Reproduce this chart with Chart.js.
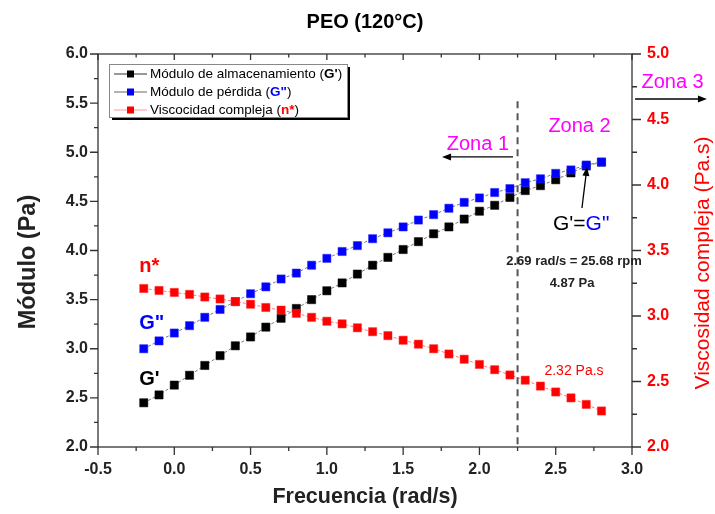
<!DOCTYPE html>
<html>
<head>
<meta charset="utf-8">
<title>PEO (120°C)</title>
<script src="https://cdn.jsdelivr.net/npm/chart.js"></script>
<style>
  html, body { margin: 0; padding: 0; background: #fff; }
  #wrap { width: 715px; height: 514px; }
</style>
</head>
<body>
<div id="wrap"><canvas id="peoChart" width="715" height="514"></canvas></div>
<script>
  // log10 frecuencia (rad/s)
  const frequency = [-0.2, -0.1, 0.0, 0.1, 0.2, 0.3, 0.4, 0.5, 0.6, 0.7, 0.8, 0.9, 1.0, 1.1, 1.2, 1.3,
    1.4, 1.5, 1.6, 1.7, 1.8, 1.9, 2.0, 2.1, 2.2, 2.3, 2.4, 2.5, 2.6, 2.7, 2.8];
  // G' (Pa)
  const storageModulus = [2.45, 2.53, 2.63, 2.73, 2.83, 2.93, 3.03, 3.12, 3.22, 3.31, 3.41, 3.50, 3.59, 3.67,
    3.76, 3.85, 3.93, 4.01, 4.09, 4.17, 4.24, 4.32, 4.40, 4.46, 4.54, 4.61, 4.66, 4.72, 4.79, 4.86, 4.90];
  // G'' (Pa)
  const lossModulus = [3.00, 3.08, 3.16, 3.235, 3.32, 3.40, 3.48, 3.56, 3.63, 3.71, 3.77, 3.85, 3.92, 3.99,
    4.05, 4.12, 4.18, 4.24, 4.31, 4.365, 4.43, 4.49, 4.535, 4.59, 4.63, 4.69, 4.73, 4.785, 4.82, 4.87, 4.90];
  // n* (Pa.s)
  const complexViscosity = [3.21, 3.195, 3.18, 3.165, 3.145, 3.13, 3.11, 3.09, 3.065, 3.045, 3.02, 2.99, 2.96,
    2.94, 2.91, 2.88, 2.85, 2.815, 2.785, 2.75, 2.71, 2.67, 2.63, 2.59, 2.55, 2.51, 2.465, 2.42, 2.375, 2.325, 2.275];

  const xRange = [-0.5, 3.0];
  const yLeftRange = [2.0, 6.0];
  const yRightRange = [2.0, 5.0];
  const majorStep = 0.5;
  const minorStep = 0.25;

  const FONT = "'Liberation Sans', Arial, sans-serif";

  function points(ys) {
    return frequency.map((x, i) => ({ x: x, y: ys[i] }));
  }

  function arrow(ctx, x1, y1, x2, y2) {
    const ang = Math.atan2(y2 - y1, x2 - x1);
    const hl = 9, hw = 3.5;
    ctx.beginPath();
    ctx.moveTo(x1, y1);
    ctx.lineTo(x2 - Math.cos(ang) * hl * 0.8, y2 - Math.sin(ang) * hl * 0.8);
    ctx.stroke();
    ctx.beginPath();
    ctx.moveTo(x2, y2);
    ctx.lineTo(x2 - Math.cos(ang) * hl + Math.sin(ang) * hw, y2 - Math.sin(ang) * hl - Math.cos(ang) * hw);
    ctx.lineTo(x2 - Math.cos(ang) * hl - Math.sin(ang) * hw, y2 - Math.sin(ang) * hl + Math.cos(ang) * hw);
    ctx.closePath();
    ctx.fill();
  }

  // texto con partes de distinto estilo
  function richText(ctx, parts, x, y) {
    let cx = x;
    parts.forEach(p => {
      ctx.font = p.font;
      ctx.fillStyle = p.color;
      ctx.fillText(p.text, cx, y);
      cx += ctx.measureText(p.text).width;
    });
  }

  function verticalText(ctx, text, x, y, font, color) {
    ctx.save();
    ctx.translate(x, y);
    ctx.rotate(-Math.PI / 2);
    ctx.fillStyle = color;
    ctx.font = font;
    ctx.textAlign = 'center';
    ctx.textBaseline = 'middle';
    ctx.fillText(text, 0, 0);
    ctx.restore();
  }

  const notesPlugin = {
    id: 'peoNotes',
    afterDraw(chart) {
      const { ctx, chartArea: a, scales: { x, y, y1 } } = chart;
      const X = v => x.getPixelForValue(v);
      const Y = v => y.getPixelForValue(v);
      ctx.save();

      // marco y marcas
      ctx.strokeStyle = '#333';
      ctx.lineWidth = 1.3;
      ctx.strokeRect(a.left, a.top, a.right - a.left, a.bottom - a.top);
      ctx.beginPath();
      const isMajor = v => Math.abs(v / majorStep - Math.round(v / majorStep)) < 1e-6;
      for (let v = xRange[0]; v <= xRange[1] + 1e-6; v += minorStep) {
        const px = X(v);
        ctx.moveTo(px, a.bottom); ctx.lineTo(px, a.bottom + (isMajor(v) ? 8 : 4));
        ctx.moveTo(px, a.top); ctx.lineTo(px, a.top + (isMajor(v) ? 6 : 3.5));
      }
      for (let v = yLeftRange[0]; v <= yLeftRange[1] + 1e-6; v += minorStep) {
        const py = Y(v);
        ctx.moveTo(a.left, py); ctx.lineTo(a.left - (isMajor(v) ? 8 : 4), py);
      }
      for (let v = yRightRange[0]; v <= yRightRange[1] + 1e-6; v += minorStep) {
        const py = y1.getPixelForValue(v);
        ctx.moveTo(a.right, py); ctx.lineTo(a.right + (isMajor(v) ? 9 : 5), py);
      }
      ctx.stroke();

      // línea divisoria de zonas
      ctx.save();
      ctx.strokeStyle = '#555';
      ctx.lineWidth = 2;
      ctx.setLineDash([7, 5]);
      ctx.beginPath();
      ctx.moveTo(X(2.25), Y(5.52));
      ctx.lineTo(X(2.25), a.bottom);
      ctx.stroke();
      ctx.restore();

      // título
      ctx.fillStyle = '#000';
      ctx.font = 'bold 20px ' + FONT;
      ctx.textAlign = 'center';
      ctx.textBaseline = 'alphabetic';
      ctx.fillText('PEO (120°C)', (a.left + a.right) / 2, 28);

      // títulos de ejes verticales
      verticalText(ctx, 'Módulo (Pa)', 29, 262, 'bold 23.5px ' + FONT, '#222');
      verticalText(ctx, 'Viscosidad compleja (Pa.s)', 703, 263, '21px ' + FONT, '#ff0000');

      // etiquetas de series
      ctx.textAlign = 'left';
      ctx.font = 'bold 20px ' + FONT;
      ctx.fillStyle = '#ff0000'; ctx.fillText('n*', X(-0.23), Y(3.78));
      ctx.fillStyle = '#0000ff'; ctx.fillText('G"', X(-0.23), Y(3.20));
      ctx.fillStyle = '#000'; ctx.fillText("G'", X(-0.23), Y(2.63));

      // zonas
      ctx.textAlign = 'center';
      ctx.font = '20px ' + FONT;
      ctx.fillStyle = '#ff00ff';
      ctx.fillText('Zona 1', X(1.99), Y(5.02));
      ctx.fillText('Zona 2', X(2.656), Y(5.206));
      ctx.fillText('Zona 3', X(3.266), Y(5.654));
      ctx.strokeStyle = '#000'; ctx.fillStyle = '#000'; ctx.lineWidth = 1.3;
      arrow(ctx, X(2.22), Y(4.952), X(1.755), Y(4.952));
      arrow(ctx, X(3.02), Y(5.542), X(3.491), Y(5.542));
      arrow(ctx, X(2.672), Y(4.433), X(2.705), Y(4.85));

      // G'=G''
      ctx.textAlign = 'left';
      const gx = X(2.482), gy = Y(4.209);
      richText(ctx, [
        { text: "G'=", font: '21px ' + FONT, color: '#000' },
        { text: 'G"', font: '21px ' + FONT, color: '#0000ff' }
      ], gx, gy);

      ctx.textAlign = 'center';
      ctx.fillStyle = '#222';
      ctx.font = 'bold 13px ' + FONT;
      ctx.fillText('2.69 rad/s = 25.68 rpm', X(2.62), Y(3.852));
      ctx.fillText('4.87 Pa', X(2.607), Y(3.628));
      ctx.fillStyle = '#ff0000';
      ctx.font = '14px ' + FONT;
      ctx.fillText('2.32 Pa.s', X(2.62), Y(2.733));

      // leyenda
      const lx = a.left + 11, ly = a.top + 10, lw = 238, lh = 53;
      ctx.fillStyle = '#000';
      ctx.fillRect(lx + 3, ly + 3, lw, lh);
      ctx.fillStyle = '#fff';
      ctx.fillRect(lx, ly, lw, lh);
      ctx.strokeStyle = '#888'; ctx.lineWidth = 1;
      ctx.strokeRect(lx + 0.5, ly + 0.5, lw, lh);
      const rows = [
        { line: '#333', mark: '#000', parts: [['Módulo de almacenamiento (', '#000', ''], ["G'", '#000', 'bold '], [')', '#000', '']] },
        { line: '#666', mark: '#0000ff', parts: [['Módulo de pérdida (', '#000', ''], ['G"', '#0000ff', 'bold '], [')', '#000', '']] },
        { line: '#ff9999', mark: '#ff0000', parts: [['Viscocidad compleja (', '#000', ''], ['n*', '#ff0000', 'bold '], [')', '#000', '']] }
      ];
      ctx.textAlign = 'left';
      ctx.textBaseline = 'middle';
      rows.forEach((r, i) => {
        const cy = ly + 10 + i * 18;
        ctx.strokeStyle = r.line; ctx.lineWidth = 1;
        ctx.beginPath(); ctx.moveTo(lx + 5, cy); ctx.lineTo(lx + 38, cy); ctx.stroke();
        ctx.fillStyle = r.mark;
        ctx.fillRect(lx + 18, cy - 3.5, 7, 7);
        richText(ctx, r.parts.map(p => ({ text: p[0], color: p[1], font: p[2] + '13.5px ' + FONT })), lx + 41, cy + 0.5);
      });

      ctx.restore();
    }
  };

  const tickFont = { family: FONT, size: 16, weight: 'bold' };

  new Chart(document.getElementById('peoChart'), {
    type: 'line',
    data: {
      datasets: [
        {
          label: "Módulo de almacenamiento (G')",
          data: points(storageModulus),
          yAxisID: 'y',
          borderColor: '#777', borderWidth: 1, borderDash: [3, 2],
          pointStyle: 'rect', pointRadius: 5.8,
          pointBackgroundColor: '#000', pointBorderColor: '#000', pointBorderWidth: 0.5,
          order: 3
        },
        {
          label: "Módulo de pérdida (G'')",
          data: points(lossModulus),
          yAxisID: 'y',
          borderColor: '#777', borderWidth: 1, borderDash: [3, 2],
          pointStyle: 'rect', pointRadius: 5.8,
          pointBackgroundColor: '#0000ff', pointBorderColor: '#2a2aff', pointBorderWidth: 0.5,
          order: 2
        },
        {
          label: 'Viscocidad compleja (n*)',
          data: points(complexViscosity),
          yAxisID: 'y1',
          borderColor: '#ff7777', borderWidth: 1, borderDash: [3, 2],
          pointStyle: 'rect', pointRadius: 5.8,
          pointBackgroundColor: '#ff0000', pointBorderColor: '#ff2a2a', pointBorderWidth: 0.5,
          order: 1
        }
      ]
    },
    options: {
      responsive: false,
      animation: false,
      devicePixelRatio: 1,
      layout: { padding: { top: 54, left: 0, right: 0, bottom: 0 } },
      plugins: { legend: { display: false }, tooltip: { enabled: false } },
      scales: {
        x: {
          type: 'linear', min: xRange[0], max: xRange[1],
          ticks: { stepSize: majorStep, padding: 13, color: '#222', font: tickFont, callback: v => v.toFixed(1) },
          grid: { display: false, drawTicks: false },
          border: { display: false },
          title: { display: true, text: 'Frecuencia (rad/s)', color: '#222',
            font: { family: FONT, size: 21.5, weight: 'bold', lineHeight: 1 }, padding: { top: 0, bottom: 6.5 } },
          afterFit: s => { s.height = 67; }
        },
        y: {
          position: 'left', min: yLeftRange[0], max: yLeftRange[1],
          ticks: { stepSize: majorStep, padding: 10, color: '#222', font: tickFont, callback: v => v.toFixed(1) },
          grid: { display: false, drawTicks: false },
          border: { display: false },
          afterFit: s => { s.width = 98; }
        },
        y1: {
          position: 'right', min: yRightRange[0], max: yRightRange[1],
          ticks: { stepSize: majorStep, padding: 15, color: '#ff0000', font: tickFont, callback: v => v.toFixed(1) },
          grid: { display: false, drawTicks: false },
          border: { display: false },
          afterFit: s => { s.width = 83; }
        }
      }
    },
    plugins: [notesPlugin]
  });
</script>
</body>
</html>
